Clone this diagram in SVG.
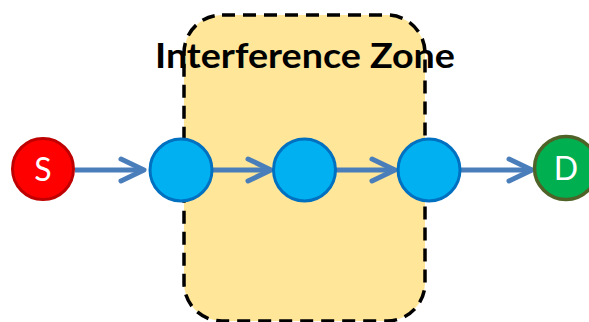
<svg xmlns="http://www.w3.org/2000/svg" width="589" height="322" viewBox="0 0 589 322">
  <style>
    .zone { fill: #FFE699; stroke: #000; stroke-width: 3.5; stroke-dasharray: 13 8; }
    .title { font-family: Lato, "Liberation Sans", sans-serif; font-weight: bold; font-size: 35px; fill: #000; }
    .blue { fill: #00B0F0; stroke: #0070C0; stroke-width: 3; }
    .src { fill: #FF0000; stroke: #C00000; stroke-width: 3; }
    .dst { fill: #00B050; stroke: #4F6228; stroke-width: 3.5; }
    .lbl { font-family: Lato, "Liberation Sans", sans-serif; font-size: 32px; fill: #fff; text-anchor: middle; }
    .edge { stroke: #4A7EBB; stroke-width: 5; fill: none; marker-end: url(#ah); }
  </style>
  <defs>
    <marker id="ah" markerUnits="userSpaceOnUse" markerWidth="32" markerHeight="30" viewBox="-28 -15 32 30" refX="0" refY="0" orient="auto">
      <path d="M-23,-11 L0,0 L-23,11" fill="none" stroke="#4A7EBB" stroke-width="5" stroke-linecap="round" stroke-linejoin="round"/>
    </marker>
  </defs>
  <g id="zone">
    <rect class="zone" x="184" y="15" width="241" height="306" rx="38" ry="38"/>
    <text class="title" x="155" y="68" textLength="300" lengthAdjust="spacingAndGlyphs">Interference Zone</text>
  </g>
  <g id="connectors">
    <line class="edge" x1="75" y1="170" x2="144" y2="170"/>
    <line class="edge" x1="213" y1="170" x2="271" y2="170"/>
    <line class="edge" x1="336" y1="170" x2="395" y2="170"/>
    <line class="edge" x1="461" y1="170" x2="532" y2="170"/>
  </g>
  <g id="S">
    <circle class="src" cx="43" cy="169" r="30.5"/>
    <text class="lbl" x="43" y="181">S</text>
  </g>
  <g id="n1">
    <circle class="blue" cx="181" cy="170" r="31"/>
  </g>
  <g id="n2">
    <circle class="blue" cx="304.5" cy="170" r="31"/>
  </g>
  <g id="n3">
    <circle class="blue" cx="429" cy="170" r="31"/>
  </g>
  <g id="D">
    <circle class="dst" cx="566" cy="168" r="31.5"/>
    <text class="lbl" x="566" y="180">D</text>
  </g>
</svg>
